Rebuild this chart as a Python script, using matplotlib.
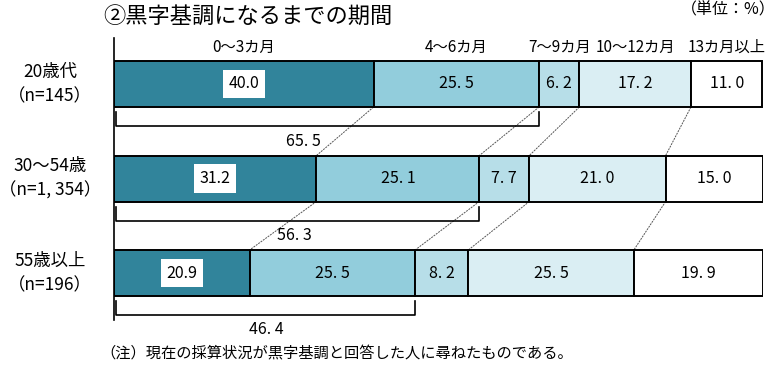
import matplotlib.pyplot as plt
import numpy as np

plt.rcParams['font.family'] = ['Noto Sans CJK JP', 'DejaVu Sans']

# データ
groups = ["20歳代\n（n=145）", "30～54歳\n（n=1, 354）", "55歳以上\n（n=196）"]
periods = ["0～3カ月", "4～6カ月", "7～9カ月", "10～12カ月", "13カ月以上"]
v_20s = [40.0, 25.5, 6.2, 17.2, 11.0]
v_30s = [31.2, 25.1, 7.7, 21.0, 15.0]
v_55s = [20.9, 25.5, 8.2, 25.5, 19.9]
value_labels = [["40.0", "25. 5", "6. 2", "17. 2", "11. 0"],
                ["31.2", "25. 1", "7. 7", "21. 0", "15. 0"],
                ["20.9", "25. 5", "8. 2", "25. 5", "19. 9"]]
within_6m = ["65. 5", "56. 3", "46. 4"]

colors = ["#31849b", "#92cddc", "#b7dee8", "#daeef3", "#ffffff"]

W, H = 780, 367
fig = plt.figure(figsize=(W / 100, H / 100), dpi=100)
x0, x1 = 114, 763
ax = fig.add_axes([x0 / W, 0, (x1 - x0) / W, 1])
ax.set_xlim(0, 100)
ax.set_ylim(H, 0)
ax.axis('off')

rows = [v_20s, v_30s, v_55s]
yc = [84, 178.5, 273]     # 各棒の中心 (px)
bh = 46
lab_x = [303, 294, 266]   # 括弧ラベルの位置 (px)

cums = []
for r, vals in enumerate(rows):
    left = np.concatenate([[0], np.cumsum(vals)[:-1]])
    cums.append(np.cumsum(vals))
    ax.barh(yc[r], vals, left=left, height=bh, color=colors,
            edgecolor='black', linewidth=1.4, zorder=3)
    for k, (l, v) in enumerate(zip(left, vals)):
        if k == 0:
            ax.text(l + v / 2, yc[r], value_labels[r][k], ha='center', va='center',
                    fontsize=11.5, zorder=5,
                    bbox=dict(facecolor='white', edgecolor='none', pad=4))
        else:
            ax.text(l + v / 2, yc[r], value_labels[r][k], ha='center', va='center',
                    fontsize=11.5, zorder=5)

# 期間ラベル
left0 = np.concatenate([[0], np.cumsum(v_20s)[:-1]])
for k, p in enumerate(periods):
    ax.text(left0[k] + v_20s[k] / 2, 47, p, ha='center', va='center', fontsize=11)

# 点線（区切りの接続）
for r in range(2):
    for k in range(4):
        ax.plot([cums[r][k], cums[r + 1][k]], [yc[r] + bh / 2, yc[r + 1] - bh / 2],
                color='#555555', linewidth=0.7, linestyle=(0, (2, 1)), zorder=2)

# 6カ月以内の括弧
for r in range(3):
    s = cums[r][1]
    yb = yc[r] + bh / 2 + 19
    ax.plot([0.3, 0.3, s, s], [yc[r] + bh / 2 + 5, yb, yb, yc[r] + bh / 2 + 5],
            color='black', linewidth=1.2, zorder=2)
    fig.text(lab_x[r] / W, 1 - (yb + 15) / H, within_6m[r], ha='center', va='center',
             fontsize=11.5)

# 縦軸線
ax.plot([0, 0], [38, 320], color='black', linewidth=1.2, zorder=4, clip_on=False)

# 区分ラベル
for r, g in enumerate(groups):
    fig.text(50 / W, 1 - yc[r] / H, g, ha='center', va='center', fontsize=12.5,
             linespacing=1.45)

fig.text(103 / W, 1 - 17 / H, "②黒字基調になるまでの期間", ha='left', va='center',
         fontsize=16)
fig.text(776 / W, 1 - 10 / H, "（単位：%）", ha='right', va='center', fontsize=11.5)
fig.text(100 / W, 1 - 354 / H, "（注）現在の採算状況が黒字基調と回答した人に尋ねたものである。",
         ha='left', va='center', fontsize=11)

fig.savefig("out.png", dpi=100)
